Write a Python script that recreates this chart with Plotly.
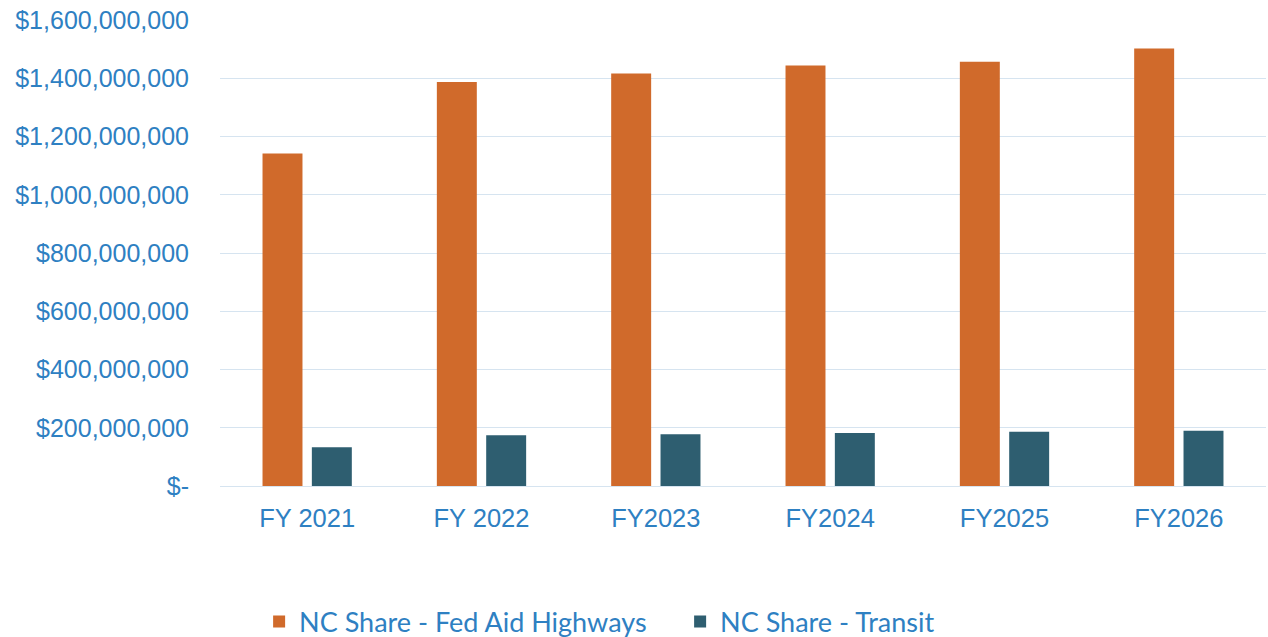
import plotly.graph_objects as go

categories = ["FY 2021", "FY 2022", "FY2023", "FY2024", "FY2025", "FY2026"]
highways = [1142000000, 1387000000, 1416000000, 1444000000, 1457000000, 1502000000]
transit = [133000000, 174000000, 177500000, 182000000, 186500000, 190000000]
tick_vals = [0, 200000000, 400000000, 600000000, 800000000, 1000000000, 1200000000, 1400000000, 1600000000]
tick_text = ["$-", "$200,000,000", "$400,000,000", "$600,000,000", "$800,000,000",
             "$1,000,000,000", "$1,200,000,000", "$1,400,000,000", "$1,600,000,000"]

blue = "#2E80C2"
grid = "#D6E4F0"

fig = go.Figure()
fig.add_trace(go.Bar(name="NC Share - Fed Aid Highways", x=categories, y=highways,
                     marker=dict(color="#D06A2B", line=dict(width=0))))
fig.add_trace(go.Bar(name="NC Share - Transit", x=categories, y=transit,
                     marker=dict(color="#2E5E70", line=dict(width=0))))

fig.update_layout(
    width=1268, height=637,
    margin=dict(l=220, r=2, t=20, b=151),
    paper_bgcolor="white", plot_bgcolor="white",
    barmode="group", bargap=0.434, bargroupgap=0.19,
    font=dict(family="Liberation Sans, Arial, sans-serif", color=blue, size=25),
    xaxis=dict(showgrid=False, showline=False, ticks="", automargin=False,
               ticklabelstandoff=14, tickfont=dict(size=25.5, color=blue)),
    yaxis=dict(range=[0, 1600000000], tickvals=tick_vals, ticktext=tick_text,
               showgrid=True, gridcolor=grid, gridwidth=1, automargin=False,
               zeroline=True, zerolinecolor=grid, zerolinewidth=1,
               showline=False, ticks="", ticklabelstandoff=30,
               tickfont=dict(size=25, color=blue)),
    legend=dict(orientation="h", xref="paper", x=0.0374, xanchor="left",
                yref="container", y=(637 - 622) / 637, yanchor="middle",
                font=dict(family="Lato, Noto Sans, sans-serif", size=27, color=blue),
                itemwidth=30, entrywidth=376, traceorder="normal"),
    showlegend=True,
)

fig.write_html("out.html", config={"displayModeBar": False},
               post_script="document.body.style.margin='0';")
